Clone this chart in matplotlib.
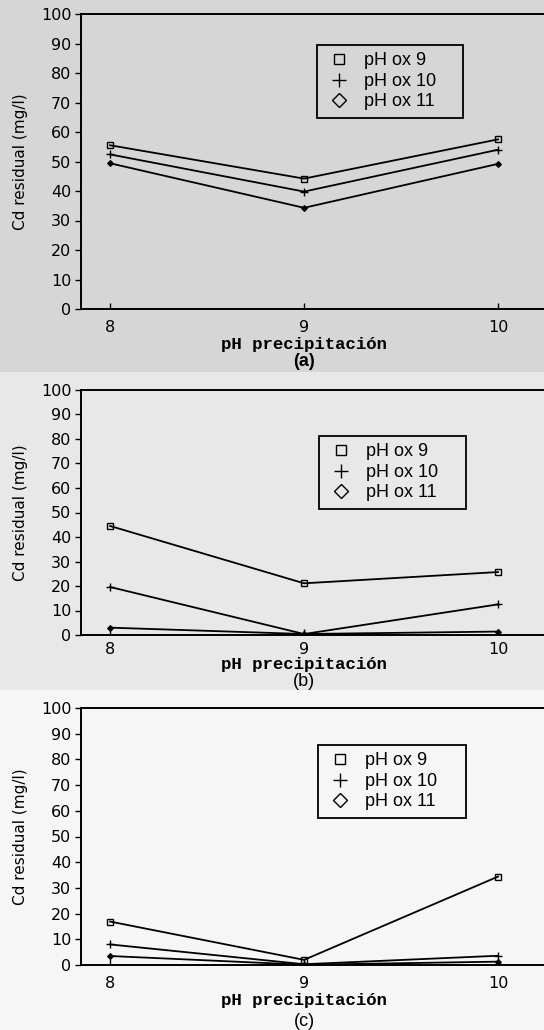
import matplotlib
matplotlib.use('Agg')
import matplotlib.pyplot as plt
from matplotlib.patches import Rectangle

# valores (Cd residual, mg/l)
ph_precip = [8, 9, 10]
series_names = ['pH ox 9', 'pH ox 10', 'pH ox 11']

cd_a = [[55.5, 44.2, 57.5],
        [52.4, 39.8, 54.0],
        [49.4, 34.3, 49.2]]
cd_b = [[44.5, 21.1, 25.7],
        [19.6, 0.4, 12.5],
        [3.0, 0.4, 1.4]]
cd_c = [[16.9, 2.0, 34.4],
        [8.0, 0.3, 3.6],
        [3.5, 0.1, 1.3]]
panel_letters = ['(a)', '(b)', '(c)']
yticks = list(range(0, 101, 10))

W, H = 544, 1030
fig = plt.figure(figsize=(W / 100, H / 100), dpi=100)

# tono del escaneo por zona
for y0, y1, tone in [(0, 372, '#d6d6d6'), (372, 690, '#e8e8e8'), (690, H, '#f6f6f6')]:
    fig.patches.append(Rectangle((0, 1 - y1 / H), 1, (y1 - y0) / H, transform=fig.transFigure,
                                 facecolor=tone, edgecolor='none', zorder=-10))

# (top px, bottom px, legend box px (x0, top, w, h), offsets px: ticklabel, xlabel, letter)
layout = [
    (14, 309, (317, 45, 146, 71), 18, 36, 53),
    (390, 635, (319, 436, 147, 70), 15, 30, 47),
    (708, 965, (318, 745, 148, 70), 18, 36, 57),
]
data = [cd_a, cd_b, cd_c]
left_px = 81
ax_w = W - left_px
markers = [dict(marker='s', ms=4.5, mfc='none', mew=1.0),
           dict(marker='+', ms=6, mew=1.0),
           dict(marker='D', ms=3, mfc='black', mew=0.8)]
legend_markers = [dict(marker='s', ms=7.5, mfc='none', mew=1.0),
                  dict(marker='+', ms=10, mew=1.0),
                  dict(marker='D', ms=7.5, mfc='none', mew=1.0)]

for i, (top, bot, lbox, off_t, off_x, off_l) in enumerate(layout):
    ax_h = bot - top
    ax = fig.add_axes([left_px / W, 1 - bot / H, ax_w / W, ax_h / H])
    ax.set_facecolor('none')
    for j, vals in enumerate(data[i]):
        ax.plot(ph_precip, vals, color='black', lw=1.3, **markers[j])
    ax.set_xlim(7.85, 10.237)
    ax.set_ylim(0, 100)
    ax.set_yticks(yticks)
    ax.set_xticks(ph_precip)
    ax.tick_params(axis='y', direction='out', length=4, width=1, labelsize=11.5, pad=3)
    ax.tick_params(axis='x', direction='in', length=4, width=1, labelsize=11.5, pad=off_t - 10)
    for lab in ax.get_xticklabels() + ax.get_yticklabels():
        lab.set_family('DejaVu Sans')
    for s in ax.spines.values():
        s.set_linewidth(1.4)
    ax.spines['right'].set_visible(False)
    ax.set_ylabel('Cd residual (mg/l)', fontsize=11, family='DejaVu Sans', labelpad=9)

    ax.annotate('pH precipitación', xy=(9, 0), xycoords=('data', 'axes fraction'),
                xytext=(0, -off_x * 0.72), textcoords='offset points', ha='center', va='center',
                fontsize=12.5, family='Liberation Mono', fontweight='bold')
    ax.annotate(panel_letters[i], xy=(9, 0), xycoords=('data', 'axes fraction'),
                xytext=(0, -off_l * 0.72), textcoords='offset points', ha='center', va='center',
                fontsize=13, family='Liberation Sans', fontweight='bold' if i == 0 else 'normal')

    bx, by, bw, bh = lbox
    anchor = ((bx - left_px) / ax_w, 1 - (by - top + bh) / ax_h, bw / ax_w, bh / ax_h)
    handles = [plt.Line2D([], [], color='black', ls='none', **m) for m in legend_markers]
    leg = ax.legend(handles, series_names, loc='upper left', bbox_to_anchor=anchor, mode='expand',
                    frameon=True, fancybox=False, framealpha=1, edgecolor='black',
                    facecolor='none', prop={'family': 'Liberation Sans', 'size': 13},
                    handlelength=1.6, handletextpad=0.6, labelspacing=0.2,
                    borderpad=0.4, borderaxespad=0)
    leg.get_frame().set_linewidth(1.3)

fig.savefig('out.png', dpi=100)
